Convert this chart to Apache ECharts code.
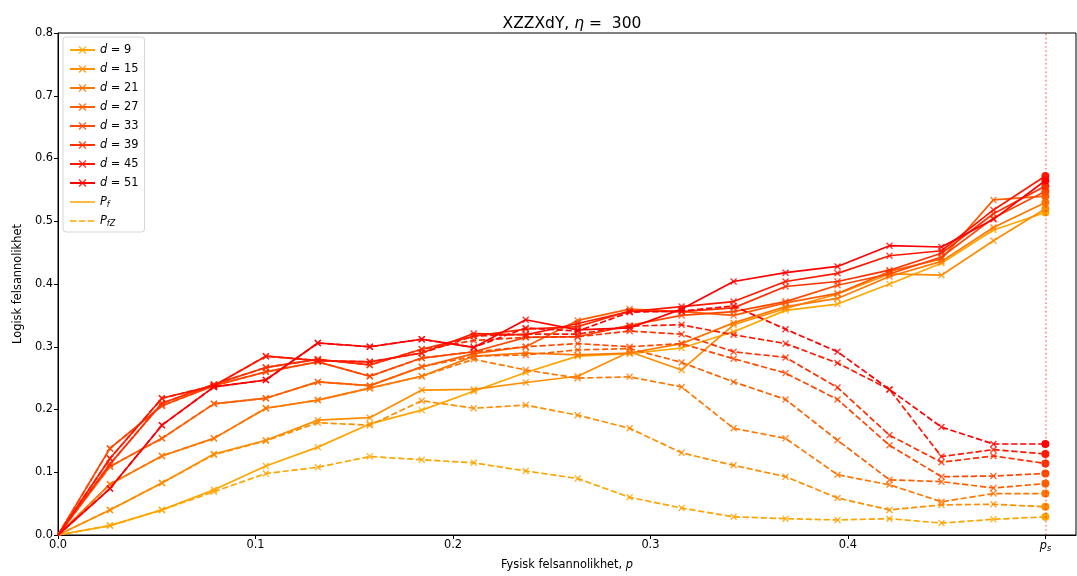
<!DOCTYPE html>
<html><head><meta charset="utf-8">
<script src="https://cdn.jsdelivr.net/npm/echarts@6/dist/echarts.min.js"></script>
<style>html,body{margin:0;padding:0;background:#fff}#c{width:1077px;height:576px}</style>
</head><body><div id="c"></div>
<script>
// ---------------- data ----------------
const ps = 0.5;
const pValues = [0, 0.026316, 0.052632, 0.078947, 0.105263, 0.131579, 0.157895, 0.184211, 0.210526, 0.236842,
                 0.263158, 0.289474, 0.315789, 0.342105, 0.368421, 0.394737, 0.421053, 0.447368, 0.473684, 0.5];
const distances = [9, 15, 21, 27, 33, 39, 45, 51];

// P_f (solid)
const pf_d9  = [0, .015, .040, .072, .110, .140, .177, .199, .229, .259, .285, .289, .298, .324, .358, .368, .400, .433, .486, .514];
const pf_d15 = [0, .040, .083, .129, .151, .183, .187, .231, .232, .243, .253, .292, .263, .335, .361, .384, .416, .414, .469, .520];
const pf_d21 = [0, .081, .126, .154, .202, .215, .234, .253, .285, .290, .287, .290, .305, .338, .364, .377, .412, .436, .490, .530];
const pf_d27 = [0, .109, .154, .209, .218, .244, .238, .268, .289, .300, .342, .360, .356, .350, .370, .385, .420, .440, .534, .540];
const pf_d33 = [0, .138, .206, .238, .260, .276, .253, .282, .292, .315, .316, .334, .350, .356, .372, .398, .416, .443, .505, .548];
const pf_d39 = [0, .113, .210, .240, .267, .280, .271, .296, .317, .328, .332, .357, .356, .362, .396, .404, .422, .449, .512, .556];
const pf_d45 = [0, .122, .218, .238, .285, .278, .276, .290, .321, .319, .337, .356, .364, .372, .404, .417, .445, .453, .518, .572];
const pf_d51 = [0, .074, .175, .236, .247, .306, .300, .312, .299, .343, .327, .330, .360, .404, .418, .428, .461, .459, .503, .565];

// P_fZ (dashed)
const pfz_d9  = [0, .015, .040, .069, .098, .108, .125, .120, .115, .102, .090, .060, .043, .029, .026, .024, .026, .019, .025, .029];
const pfz_d15 = [0, .040, .083, .128, .150, .179, .175, .214, .202, .207, .191, .170, .131, .111, .093, .059, .040, .048, .049, .045];
const pfz_d21 = [0, .081, .126, .154, .202, .215, .234, .253, .280, .263, .250, .252, .236, .170, .154, .096, .080, .053, .066, .066];
const pfz_d27 = [0, .109, .154, .209, .218, .244, .238, .268, .285, .287, .295, .297, .275, .244, .216, .151, .088, .085, .075, .082];
const pfz_d33 = [0, .138, .206, .238, .260, .276, .253, .282, .292, .300, .305, .300, .305, .281, .258, .216, .143, .093, .094, .098];
const pfz_d39 = [0, .113, .210, .240, .267, .280, .271, .296, .310, .315, .316, .325, .320, .292, .283, .235, .159, .116, .126, .114];
const pfz_d45 = [0, .122, .218, .238, .285, .278, .276, .290, .317, .320, .320, .333, .335, .319, .305, .274, .232, .125, .136, .129];
const pfz_d51 = [0, .074, .175, .236, .247, .306, .300, .312, .299, .330, .325, .355, .357, .365, .328, .292, .232, .172, .145, .145];

const xTickValues = [0, 0.1, 0.2, 0.3, 0.4, ps];
const xTickLabels = ['0.0', '0.1', '0.2', '0.3', '0.4', 'p_s'];
const yTickLabels = ['0.0','0.1','0.2','0.3','0.4','0.5','0.6','0.7','0.8'];

// ---------------- styling ----------------
const palette = ['#ffa500', '#ff8d00', '#ff7600', '#ff5e00', '#ff4700', '#ff2f00', '#ff1800', '#ff0000'];
const FONT = 'DejaVu Sans';
const FS = 11.4;
const xPath = 'path://M1.4,0L5,3.6L8.6,0L10,1.4L6.4,5L10,8.6L8.6,10L5,6.4L1.4,10L0,8.6L3.6,5L0,1.4Z';
// legend icons: bounding points at the corners keep the 25x10 box undistorted
const solidIcon = 'path://M0,0L0.01,0L0,0.01Z M0,4.15H25V5.85H0Z M25,10L24.99,10L25,9.99Z';
const dashIcon = 'path://M0,0L0.01,0L0,0.01Z M0,4.15H6.3V5.85H0Z M9,4.15H15.3V5.85H9Z M18,4.15H24.3V5.85H18Z M25,10L24.99,10L25,9.99Z';

const pfAll = [pf_d9, pf_d15, pf_d21, pf_d27, pf_d33, pf_d39, pf_d45, pf_d51];
const pfzAll = [pfz_d9, pfz_d15, pfz_d21, pfz_d27, pfz_d33, pfz_d39, pfz_d45, pfz_d51];

function buildData(vals) {
  return vals.map((v, i) => {
    if (i === 0) return { value: [pValues[i], v], symbol: 'none' };
    if (i === vals.length - 1) return { value: [pValues[i], v], symbol: 'circle', symbolSize: 8, itemStyle: { opacity: 1 } };
    return [pValues[i], v];
  });
}

const series = [];
distances.forEach((d, k) => {
  const name = 'd = ' + d;
  const col = palette[k];
  series.push({
    type: 'line', name: name, data: buildData(pfAll[k]),
    color: col, symbol: xPath, symbolSize: 7,
    itemStyle: { color: col, opacity: 0.8 },
    lineStyle: { color: col, width: 1.7, type: 'solid' },
    z: 2 + k, animation: false, silent: true, clip: false
  });
  series.push({
    type: 'line', name: name, data: buildData(pfzAll[k]),
    color: col, symbol: xPath, symbolSize: 7,
    itemStyle: { color: col, opacity: 0.8 },
    lineStyle: { color: col, width: 1.7, type: [6.3, 2.7] },
    z: 2 + k, animation: false, silent: true, clip: false
  });
});
series.push({
  type: 'line', name: 'P_f', data: [], color: '#ffa500', symbol: 'none',
  itemStyle: { color: '#ffa500' },
  lineStyle: { color: '#ffa500', width: 1.7, type: 'solid' }, animation: false,
  markLine: {
    silent: true, symbol: 'none', label: { show: false },
    lineStyle: { color: 'rgba(255,0,0,0.5)', width: 1.5, type: [1.6, 2.6] },
    data: [{ xAxis: ps }]
  }
});
series.push({
  type: 'line', name: 'P_fZ', data: [], color: '#ffa500', symbol: 'none',
  itemStyle: { color: '#ffa500' },
  lineStyle: { color: '#ffa500', width: 1.7, type: [6.3, 2.7] }, animation: false
});

const rich = {
  n: { fontFamily: FONT, fontSize: FS, color: '#000' },
  i: { fontFamily: FONT, fontSize: FS, fontStyle: 'italic', color: '#000' },
  sub: { fontFamily: FONT, fontSize: 8, fontStyle: 'italic', color: '#000', padding: [5, 0, 0, 0] }
};

const legendData = distances.map(d => ({ name: 'd = ' + d }))
  .concat([{ name: 'P_f', icon: solidIcon }, { name: 'P_fZ', icon: dashIcon }]);

const option = {
  backgroundColor: '#fff',
  animation: false,
  title: {
    text: '{n|XZZXdY, }{i|η}{n| =  300}',
    left: 567, top: 11, textAlign: 'center',
    textStyle: { fontWeight: 'normal', rich: {
      n: { fontFamily: FONT, fontSize: 15.5, fontWeight: 'normal', color: '#000' },
      i: { fontFamily: FONT, fontSize: 15.5, fontWeight: 'normal', fontStyle: 'italic', color: '#000' }
    } }
  },
  grid: { left: 58, right: 1, top: 33, bottom: 41, show: true, borderColor: '#000', borderWidth: 1, backgroundColor: 'transparent' },
  legend: {
    data: legendData,
    orient: 'vertical', left: 63, top: 37,
    itemWidth: 25, itemHeight: 10, itemGap: 5,
    backgroundColor: '#fff', borderColor: '#d6d6d6', borderWidth: 1, borderRadius: 3,
    padding: [6, 6, 4, 6],
    selectedMode: false,
    textStyle: { fontFamily: FONT, fontSize: FS, color: '#000', lineHeight: 14, rich: rich },
    formatter: function (name) {
      if (name === 'P_f') return '{i|P}{sub|f}';
      if (name === 'P_fZ') return '{i|P}{sub|fZ}';
      return '{i|d}{n|' + name.slice(1) + '}';
    }
  },
  xAxis: {
    type: 'value', min: 0, max: 0.5155,
    name: '{n|Fysisk felsannolikhet, }{i|p}', nameLocation: 'middle', nameGap: 25,
    nameTextStyle: { rich: rich },
    axisLine: { onZero: false, lineStyle: { color: '#000', width: 1 } },
    axisTick: { customValues: xTickValues, length: 4, lineStyle: { color: '#000' } },
    axisLabel: {
      customValues: xTickValues, margin: 5, color: '#000', fontFamily: FONT, fontSize: FS,
      rich: rich,
      formatter: function (v) {
        const idx = xTickValues.findIndex(t => Math.abs(t - v) < 1e-9);
        if (idx < 0) return '';
        const lab = xTickLabels[idx];
        if (lab === 'p_s') return '{i|p}{sub|s}';
        return lab;
      }
    },
    splitLine: { show: false }
  },
  yAxis: {
    type: 'value', min: 0, max: 0.8, interval: 0.1,
    name: 'Logisk felsannolikhet', nameLocation: 'middle', nameGap: 34,
    nameTextStyle: { fontFamily: FONT, fontSize: FS, color: '#000' },
    axisLine: { show: true, onZero: false, lineStyle: { color: '#000', width: 1 } },
    axisTick: { show: true, length: 4, lineStyle: { color: '#000' } },
    axisLabel: {
      margin: 5, color: '#000', fontFamily: FONT, fontSize: FS,
      formatter: function (v) { return yTickLabels[Math.round(v * 10)] || ''; }
    },
    splitLine: { show: false }
  },
  series: series
};

const chart = echarts.init(document.getElementById('c'), null, { renderer: 'canvas' });
chart.setOption(option);
</script>
</body></html>
